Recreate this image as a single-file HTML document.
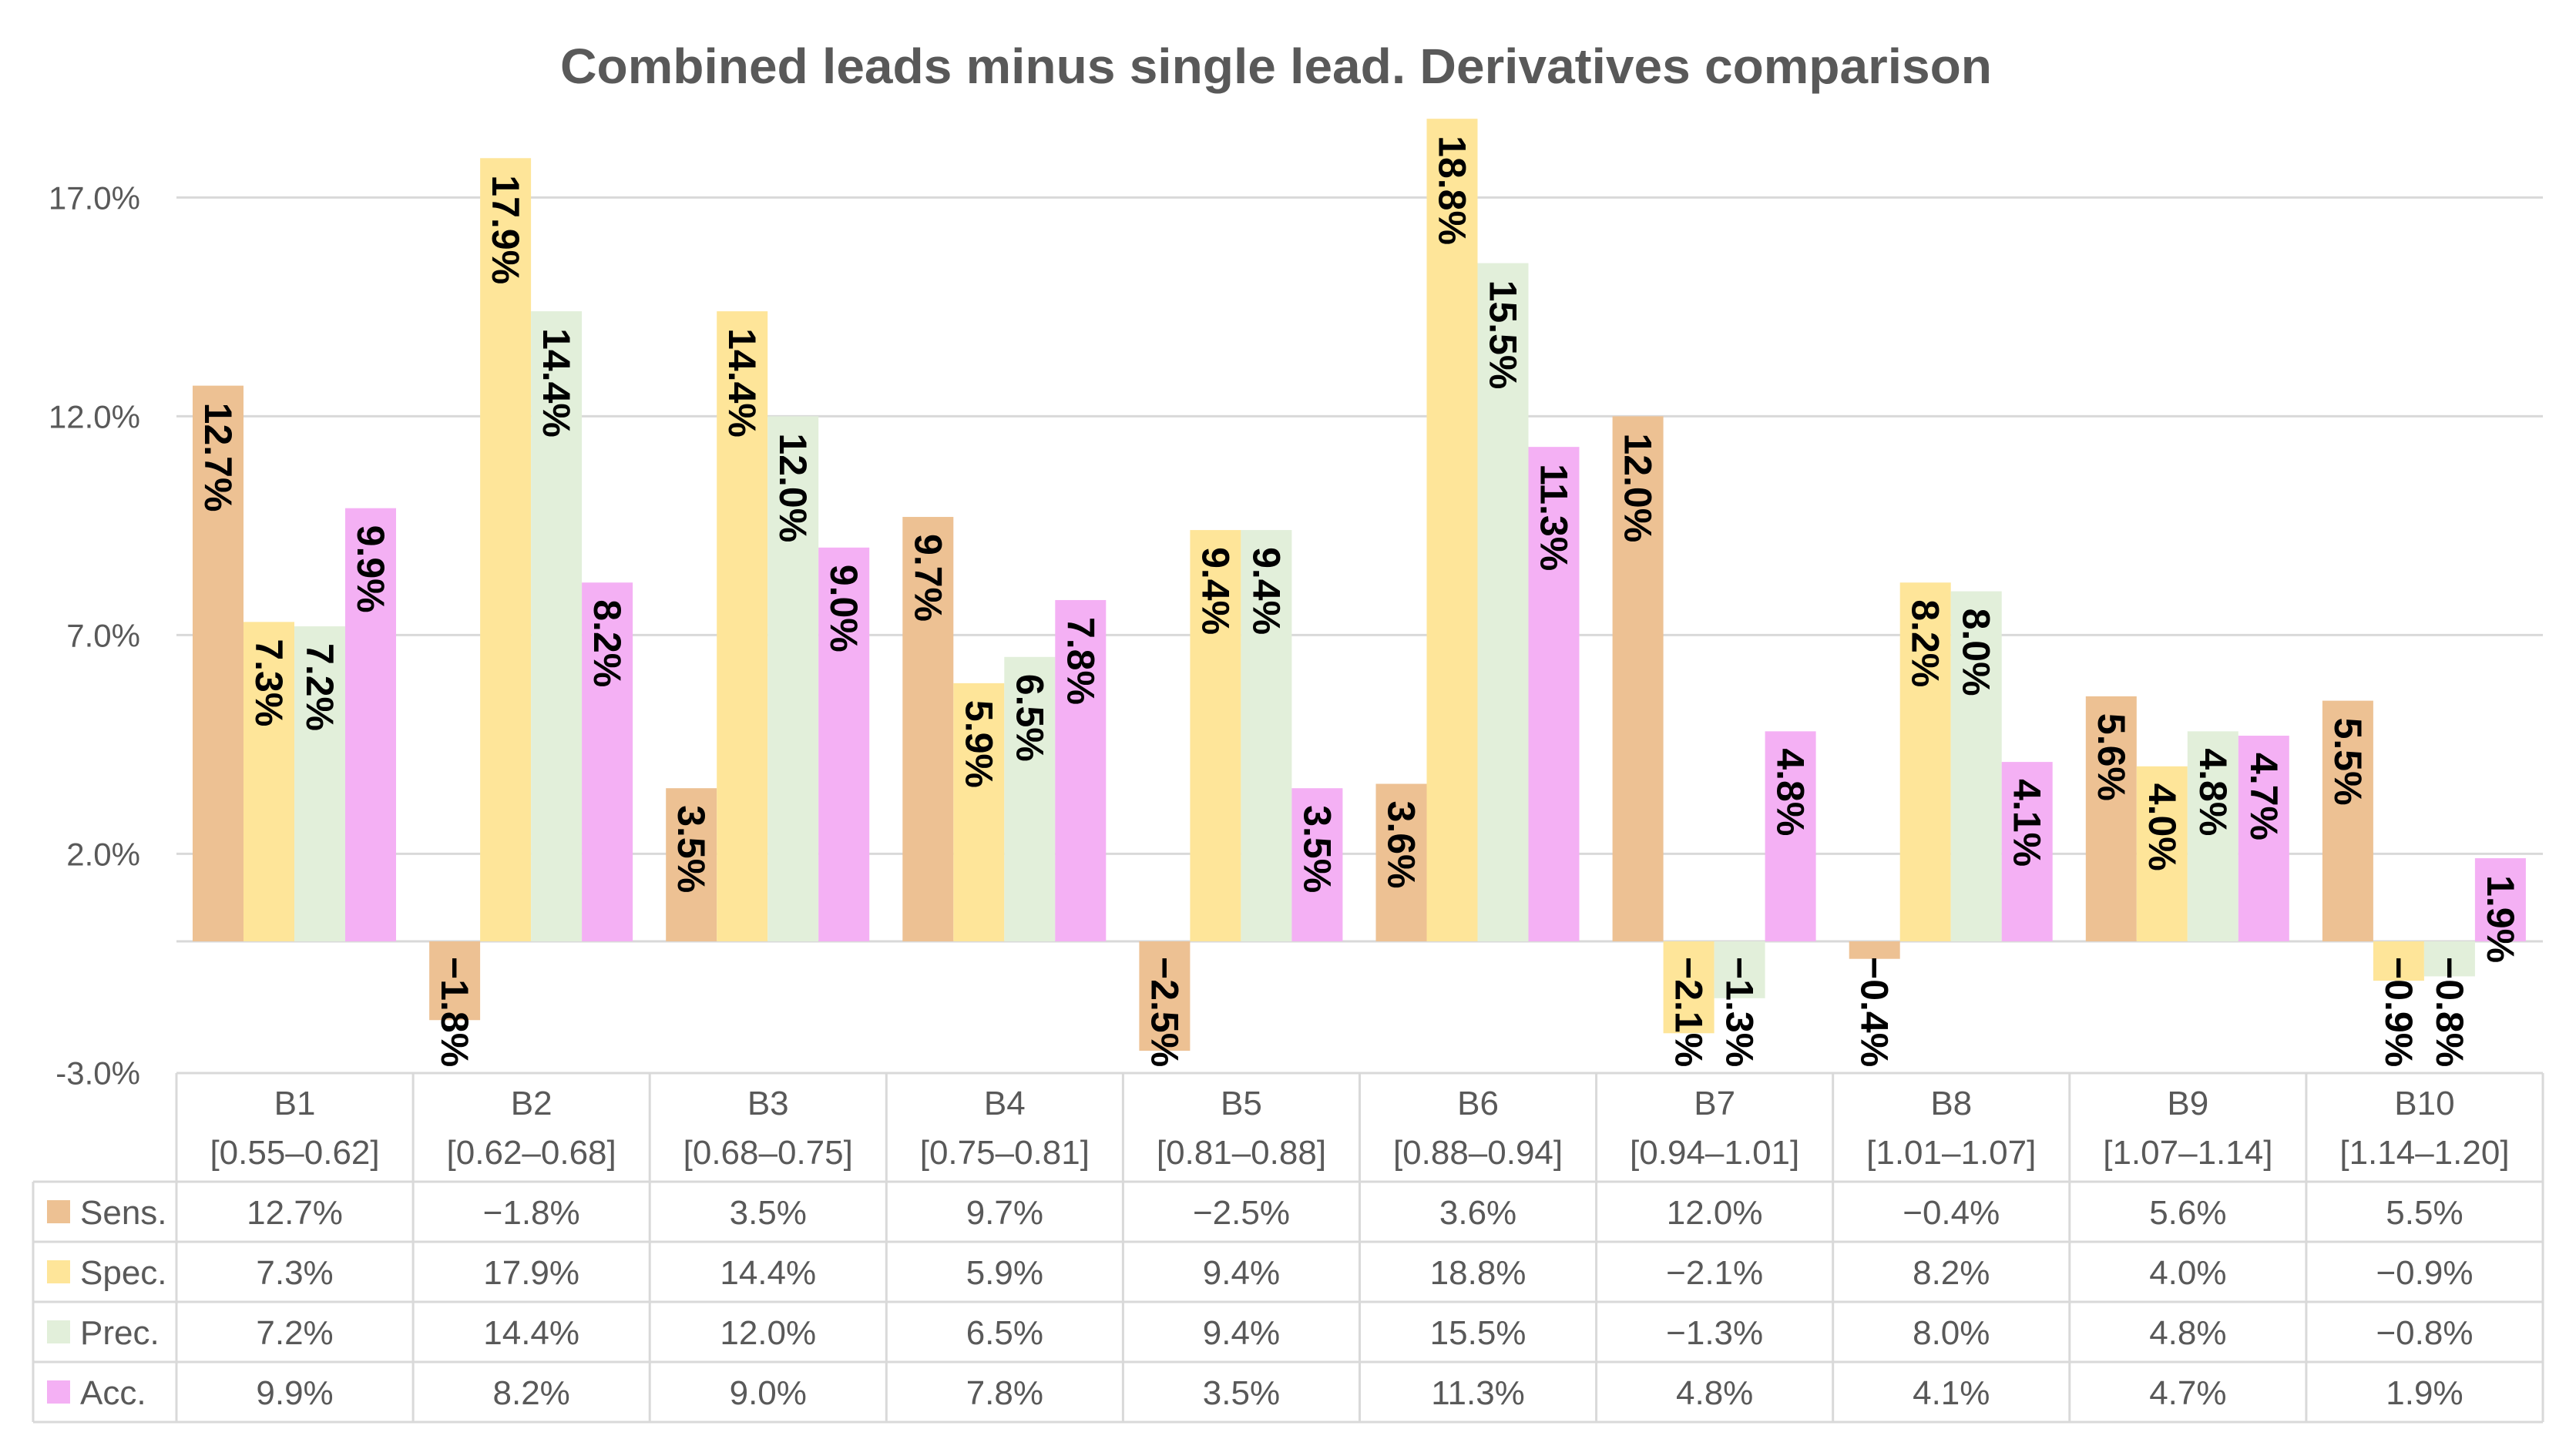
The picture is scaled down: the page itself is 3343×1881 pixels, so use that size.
<!DOCTYPE html>
<html><head><meta charset="utf-8">
<style>
html,body{margin:0;padding:0;background:#fff;}
svg{display:block;}
</style></head>
<body>
<svg id="chart" width="3343" height="1881" viewBox="0 0 3343 1881" xmlns="http://www.w3.org/2000/svg" font-family="'Liberation Sans', sans-serif">
<text x="1656" y="108" text-anchor="middle" font-size="64" font-weight="bold" fill="#595959" textLength="1858" lengthAdjust="spacingAndGlyphs">Combined leads minus single lead. Derivatives comparison</text>
<g id="grid"></g>
<g id="bars"></g>
<g id="labels"></g>
<g id="table"></g>
</svg>
<script>
const categories = ["B1","B2","B3","B4","B5","B6","B7","B8","B9","B10"];
const ranges = ["[0.55–0.62]","[0.62–0.68]","[0.68–0.75]","[0.75–0.81]","[0.81–0.88]","[0.88–0.94]","[0.94–1.01]","[1.01–1.07]","[1.07–1.14]","[1.14–1.20]"];
const seriesNames = ["Sens.","Spec.","Prec.","Acc."];
const sens = [12.7,-1.8,3.5,9.7,-2.5,3.6,12.0,-0.4,5.6,5.5];
const spec = [7.3,17.9,14.4,5.9,9.4,18.8,-2.1,8.2,4.0,-0.9];
const prec = [7.2,14.4,12.0,6.5,9.4,15.5,-1.3,8.0,4.8,-0.8];
const acc = [9.9,8.2,9.0,7.8,3.5,11.3,4.8,4.1,4.7,1.9];
const yTicks = [-3,2,7,12,17];
const colors = ["#EDC193","#FEE599","#E2EFDA","#F4B0F4"];
const series = [sens,spec,prec,acc];

const NS = "http://www.w3.org/2000/svg";
const plotL = 229, plotR = 3300;
const catW = (plotR - plotL) / categories.length;
const barW = 66, groupOff = 21;
function yScale(v){ return 1222 - v * 56.8; }
function xCat(i){ return plotL + i * catW; }
function fmt(v){ return (v < 0 ? "−" : "") + Math.abs(v).toFixed(1) + "%"; }
function mk(tag, attrs, parent){
  const e = document.createElementNS(NS, tag);
  for (const k in attrs) e.setAttribute(k, attrs[k]);
  parent.appendChild(e); return e;
}
const grid = document.getElementById("grid");
const bars = document.getElementById("bars");
const labels = document.getElementById("labels");
const table = document.getElementById("table");

yTicks.forEach(t => {
  const y = yScale(t);
  if (t !== -3) {
    const l = mk("line", {x1: plotL, x2: plotR, y1: y, y2: y, stroke: "#d9d9d9", "stroke-width": 3}, grid);
    
    
  }
  const tx = mk("text", {x: 182, y: y + 15, "text-anchor": "end", "font-size": 42, fill: "#595959"}, grid);
  
  
  tx.textContent = t.toFixed(1) + "%";
});
const zl = mk("line", {x1: plotL, x2: plotR, y1: yScale(0), y2: yScale(0), stroke: "#d9d9d9", "stroke-width": 3}, grid);



series.forEach((vals, s) => {
  vals.forEach((v, i) => {
    const x = xCat(i) + groupOff + s * barW;
    const y0 = yScale(0), y1 = yScale(v);
    const r = mk("rect", {x: x, y: Math.min(y0, y1), width: barW, height: Math.abs(y1 - y0), fill: colors[s]}, bars);
    
    
    const ly = v >= 0 ? y1 + 22 : y0 + 20;
    const cx = x + barW / 2;
    const t = mk("text", {x: 0, y: 0, transform: "translate(" + (cx - 17) + "," + ly + ") rotate(90)", "font-size": 50, "font-weight": "bold", fill: "#000"}, labels);
    
    
    t.textContent = fmt(v);
  });
});

const hTop = 1393, hBot = 1534, rowH = 78, legL = 43;
const lineAttrs = {stroke: "#d9d9d9", "stroke-width": 3};
function ln(x1,y1,x2,y2){
  const l = mk("line", Object.assign({x1,y1,x2,y2}, lineAttrs), table);
  
  
}
const tBot = hBot + rowH * 4;
ln(plotL, hTop, plotR, hTop);
for (let r = 0; r <= 4; r++) ln(legL, hBot + r * rowH, plotR, hBot + r * rowH);
ln(legL, hBot, legL, tBot);
for (let i = 0; i <= categories.length; i++) ln(xCat(i), hTop, xCat(i), tBot);
categories.forEach((c, i) => {
  const cx = xCat(i) + catW / 2;
  const a = mk("text", {x: cx, y: 1447, "text-anchor": "middle", "font-size": 44, fill: "#595959"}, table);
  
  
  a.textContent = c;
  const b = mk("text", {x: cx, y: 1511, "text-anchor": "middle", "font-size": 44, fill: "#595959"}, table);
  
  
  b.textContent = ranges[i];
});
series.forEach((vals, s) => {
  const yc = hBot + s * rowH + rowH / 2;
  const sw = mk("rect", {x: 61, y: yc - 15, width: 30, height: 30, fill: colors[s]}, table);
  
  
  const nm = mk("text", {x: 104, y: yc + 16, "font-size": 44, fill: "#595959"}, table);
  
  
  nm.textContent = seriesNames[s];
  vals.forEach((v, i) => {
    const t = mk("text", {x: xCat(i) + catW / 2, y: yc + 16, "text-anchor": "middle", "font-size": 44, fill: "#595959"}, table);
    
    
    t.textContent = fmt(v);
  });
});
</script>
</body></html>
